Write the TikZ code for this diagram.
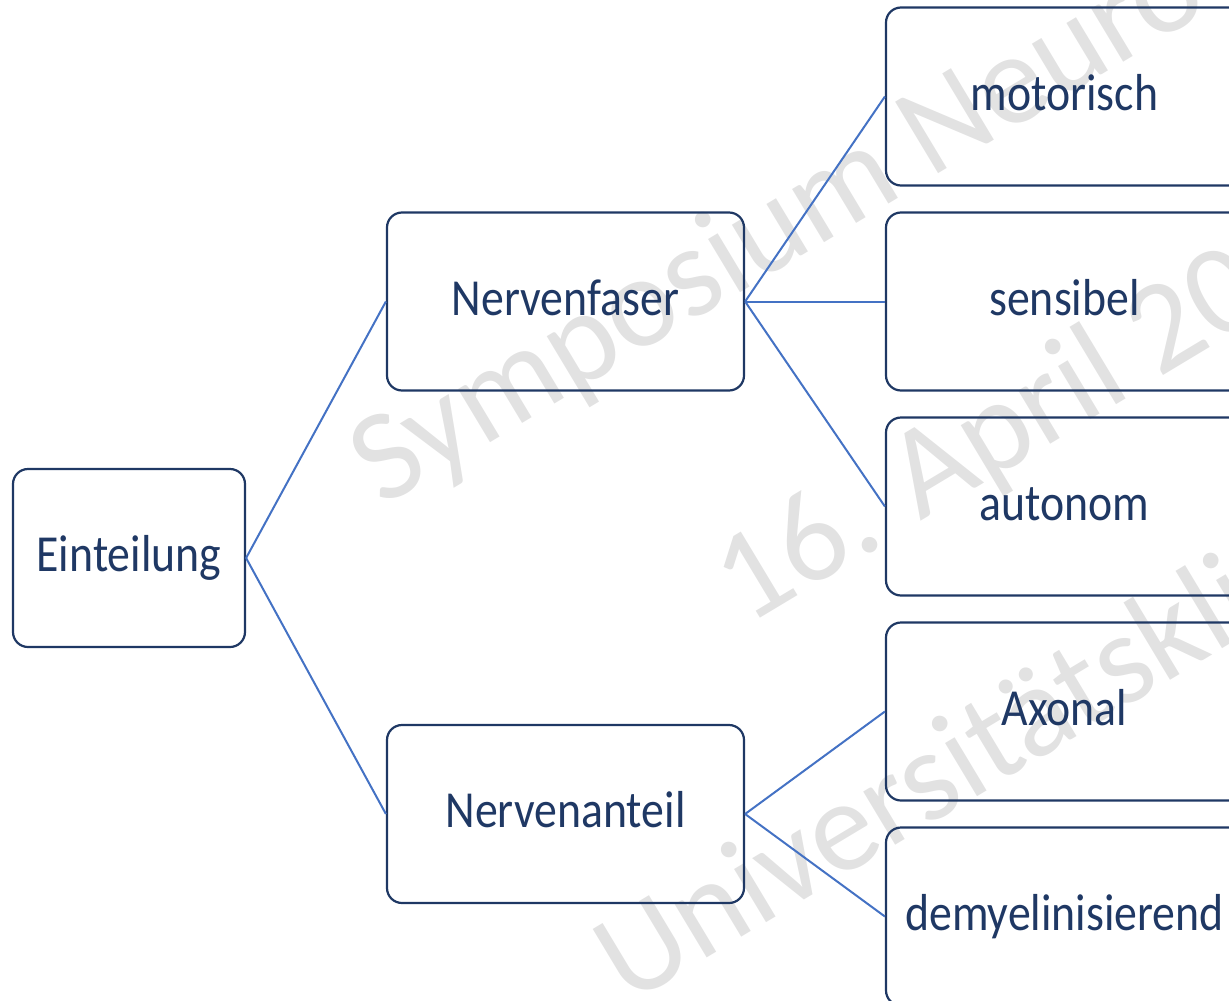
\documentclass[tikz,border=0pt]{standalone}
\usepackage{fontspec}
\setmainfont[FakeStretch=0.88]{Carlito}
\newfontfamily\wmfont{Carlito}
\definecolor{navy}{RGB}{31,56,100}
\definecolor{conncol}{RGB}{68,114,196}
\definecolor{wm}{RGB}{226,226,226}
\begin{document}
\begin{tikzpicture}[x=1pt,y=-1pt,
  box/.style={draw=navy, line width=2.2pt, rounded corners=15pt, inner sep=0pt,
    minimum height=178pt, minimum width=357pt, text=navy,
    font=\fontsize{52}{60}\selectfont, text height=27pt, text depth=0pt},
  conn/.style={draw=conncol, line width=2pt},
  wmark/.style={text=wm, font=\wmfont\fontsize{130}{150}\selectfont, rotate=31,
    anchor=base west, inner sep=0pt}]
\useasboundingbox (0,0) rectangle (1229,1001);
\clip (0,0) rectangle (1229,1001);
% watermark
\node[wmark] (w1) at (382,508) {Symposium Neuro};
\node[wmark] (w2) at (746,627) {16. April 20};
\node[wmark] (w3) at (628,1006) {Universitätskli};
% boxes
\node[box, minimum width=232pt] (ein) at (129,558) {Einteilung};
\node[box] (nf) at (565.5,301.5) {Nervenfaser};
\node[box] (na) at (565.5,814) {Nervenanteil};
\node[box] (mot) at (1064.5,96.5) {motorisch};
\node[box] (sen) at (1064.5,301.5) {sensibel};
\node[box] (aut) at (1064.5,506.5) {autonom};
\node[box] (axo) at (1064.5,711.5) {Axonal};
\node[box] (dem) at (1064.5,916.5) {demyelinisierend};
% connectors
\draw[conn] (ein.east) -- (nf.west);
\draw[conn] (ein.east) -- (na.west);
\draw[conn] (nf.east) -- (mot.west);
\draw[conn] (nf.east) -- (sen.west);
\draw[conn] (nf.east) -- (aut.west);
\draw[conn] (na.east) -- (axo.west);
\draw[conn] (na.east) -- (dem.west);
\end{tikzpicture}
\end{document}
